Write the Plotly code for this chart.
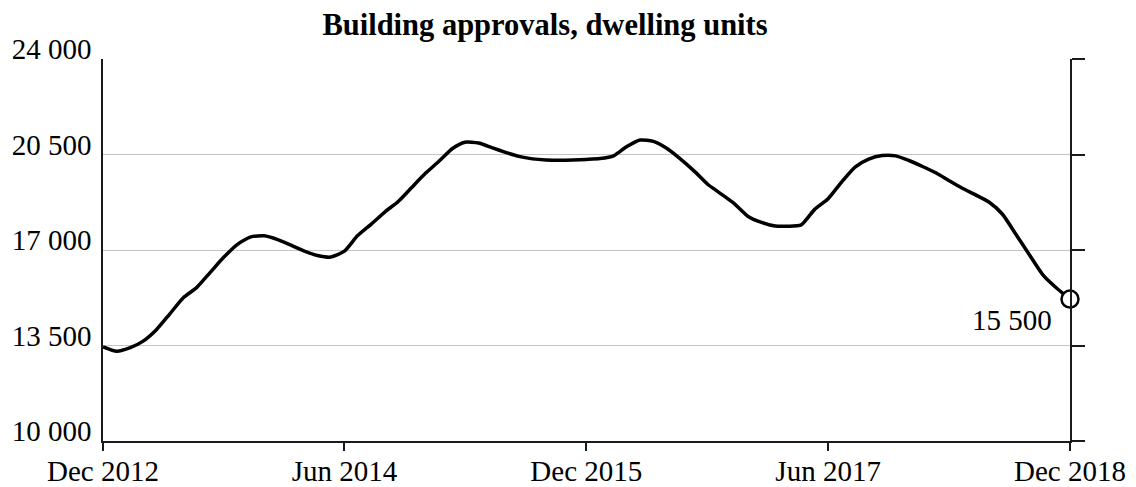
import pandas as pd
import plotly.graph_objects as go

# ---- data ----
months = pd.date_range("2012-12-01", periods=73, freq="MS")
approvals = [
    13450, 13290, 13420, 13650, 14080, 14650, 15250, 15620, 16180, 16740,
    17200, 17480, 17520, 17380, 17170, 16970, 16800, 16740, 16960, 17530,
    17950, 18400, 18780, 19300, 19800, 20250, 20720, 20950, 20920, 20750,
    20580, 20430, 20340, 20300, 20290, 20300, 20320, 20350, 20450, 20780,
    21030, 20980, 20720, 20340, 19900, 19410, 19060, 18690, 18240, 18010,
    17880, 17870, 17920, 18480, 18880, 19480, 20040, 20330, 20460, 20450,
    20280, 20060, 19820, 19550, 19260, 19020, 18750, 18310, 17560, 16800,
    16080, 15600, 15200,
]
x_tick_vals = ["2012-12-01", "2014-06-01", "2015-12-01", "2017-06-01", "2018-12-01"]
x_tick_text = ["Dec 2012", "Jun 2014", "Dec 2015", "Jun 2017", "Dec 2018"]
y_tick_vals = [10000, 13500, 17000, 20500, 24000]
y_tick_text = ["10 000", "13 500", "17 000", "20 500", "24 000"]
last_label = "15 500"
title_text = "Building approvals, dwelling units"

FONT = "Liberation Serif, Times New Roman, serif"
AXIS = "#1a1a1a"
GRID = "#c4c4c4"
TS = 29

fig = go.Figure()
fig.add_trace(go.Scatter(
    x=months, y=approvals, mode="lines",
    line=dict(color="black", width=3.5, shape="spline", smoothing=0.6),
    hoverinfo="skip", showlegend=False,
))
fig.add_trace(go.Scatter(
    x=[months[-1]], y=[approvals[-1]], mode="markers",
    marker=dict(size=17, color="white", line=dict(color="black", width=2.5)),
    hoverinfo="skip", showlegend=False, cliponaxis=False,
))
# invisible trace for the right-hand tick axis
fig.add_trace(go.Scatter(
    x=[months[0]], y=[approvals[0]], yaxis="y2", mode="lines",
    line=dict(width=0), hoverinfo="skip", showlegend=False,
))

fig.add_annotation(
    x=months[-1], y=approvals[-1], text=last_label, showarrow=False,
    xanchor="right", yanchor="middle", xshift=-16, yshift=-21,
    font=dict(family=FONT, size=TS, color="black"),
)

fig.update_layout(
    width=1136, height=487,
    margin=dict(l=103, r=66, t=59, b=46, autoexpand=False),
    paper_bgcolor="white", plot_bgcolor="white",
    font=dict(family=FONT, size=TS, color="black"),
    title=dict(
        text="<b>" + title_text + "</b>",
        x=545 / 1136, xanchor="center", xref="container",
        y=1 - 24 / 487, yanchor="middle", yref="container",
        font=dict(family=FONT, size=30.5, color="black"),
        automargin=False,
    ),
    xaxis=dict(
        type="date", range=[x_tick_vals[0], x_tick_vals[-1]],
        tickvals=x_tick_vals, ticktext=x_tick_text,
        showline=True, linecolor=AXIS, linewidth=1.5,
        ticks="outside", ticklen=8, tickcolor=AXIS, tickwidth=1.5,
        showgrid=False, zeroline=False, automargin=False,
        tickfont=dict(family=FONT, size=TS, color="black"),
        ticklabelstandoff=-5,
    ),
    yaxis=dict(
        range=[10000, 24000], tickvals=y_tick_vals, ticktext=y_tick_text,
        showline=True, linecolor=AXIS, linewidth=1.5,
        ticks="", showgrid=True, gridcolor=GRID, gridwidth=1.2,
        zeroline=False, automargin=False,
        tickfont=dict(family=FONT, size=TS, color="black"),
        ticklabelshift=-10, ticklabelstandoff=4,
    ),
    yaxis2=dict(
        overlaying="y", side="right", range=[10000, 24000],
        tickvals=y_tick_vals, showticklabels=False,
        showline=True, linecolor=AXIS, linewidth=1.5,
        ticks="outside", ticklen=13, tickcolor=AXIS, tickwidth=1.5,
        showgrid=False, zeroline=False, automargin=False,
    ),
)

fig.write_html(
    "out.html",
    config={"displayModeBar": False},
    post_script="document.body.style.margin='0px';document.body.style.overflow='hidden';",
)
